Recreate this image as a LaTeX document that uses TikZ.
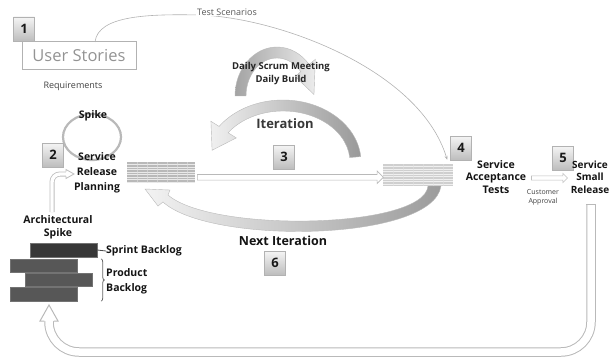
\documentclass[tikz,border=0pt]{standalone}
\usepackage{fontspec}
\setmainfont{Open Sans}
\usetikzlibrary{calc,arrows.meta,shapes.arrows,decorations.pathreplacing}
\begin{document}
\begin{tikzpicture}[x=1pt,y=-1pt,
  numbox/.style={draw=gray!60, top color=gray!8, bottom color=gray!52,
    minimum width=21pt, minimum height=24pt, inner sep=0pt,
    font=\fontsize{13}{13}\selectfont\bfseries, text=black!90},
  lbl/.style={font=\fontsize{10.5}{12.5}\selectfont\bfseries, align=center,
    text=black!92, inner sep=0pt},
  note/.style={font=\fontsize{9}{10}\selectfont, text=black!75, inner sep=1pt},
  hollow/.style={single arrow, draw=gray!55, fill=white, line width=.6pt,
    inner sep=2.5pt, single arrow head extend=3.5pt, minimum width=0pt},
  stripebox/.style={minimum width=68pt, minimum height=21pt, inner sep=0pt,
    path picture={
      \foreach \k in {1,...,8}
        \draw[white, opacity=.7, line width=.7pt]
          ([yshift=-\k*2.5pt]path picture bounding box.north west) --
          ([yshift=-\k*2.5pt]path picture bounding box.north east);
      \foreach \k in {1,...,6}
        \draw[gray!25, opacity=.6, line width=.3pt]
          ([xshift=\k*10pt]path picture bounding box.north west) --
          ([xshift=\k*10pt]path picture bounding box.south west);
    }},
  bar/.style={minimum width=67pt, inner sep=0pt, draw=black!55, line width=.4pt}
]
\useasboundingbox (0,0) rectangle (611,361);

% ---------- big arcs (behind the text) ----------
% Daily scrum loop
\coordinate (cd) at (277,96);
\shade[left color=gray!72, right color=gray!15, draw=gray!55, line width=.4pt]
  ($(cd)+(-180:42 and 49)$) arc[start angle=-180, end angle=-40, x radius=42, y radius=49]
  -- ($(cd)+(-40:50 and 57)$) -- ($(cd)+(-2:37 and 43)$) -- ($(cd)+(-40:24 and 30)$)
  -- ($(cd)+(-40:31 and 38)$) arc[start angle=-40, end angle=-180, x radius=31, y radius=38]
  -- cycle;

% Iteration loop
\coordinate (ci) at (283,162);
\shade[left color=gray!12, right color=gray!80, draw=gray!55, line width=.4pt]
  ($(ci)+(-5:78 and 62)$) arc[start angle=-5, end angle=-145, x radius=78, y radius=62]
  -- ($(ci)+(-145:88 and 71)$) -- ($(ci)+(-168:72.5 and 56.5)$) -- ($(ci)+(-145:57 and 42)$)
  -- ($(ci)+(-145:67 and 51)$) arc[start angle=-145, end angle=-5, x radius=67, y radius=51]
  -- cycle;

% Next iteration loop
\shade[left color=gray!10, right color=gray!78, draw=gray!55, line width=.4pt]
  (441,186) .. controls (433,242) and (210,245) .. (163,202)
  -- (158,206) -- (145,189) -- (170,190) -- (168,195)
  .. controls (212,233) and (424,229) .. (428,186) -- cycle;

% Spike loop
\draw[gray!55, line width=2.2pt] (92,137) ellipse[x radius=29, y radius=23];

% ---------- nodes ----------
\node[numbox] (n1) at (24,29) {1};
\node[stripebox, fill=gray!55] (sb1) at (161,172.5) {};
\node[stripebox, fill=gray!38, minimum width=70pt, minimum height=22pt] (sb2) at (418,175) {};

% Test scenarios line from the user stories to the acceptance tests
\draw[gray!60, line width=.6pt, -{Stealth[length=4pt,width=3pt]}]
  (95,42) .. controls (98,15) and (150,14) .. (200,15)
  .. controls (280,18) and (420,70) .. ($(sb2.north east)+(-6,-4)$);
\node[note, fill=white, text=black!65] (ts) at (227,12) {Test Scenarios};

\node[draw=gray!60, line width=1pt, minimum width=114pt, minimum height=28pt,
  font=\fontsize{16.5}{18}\selectfont, text=gray!85] (us) at (79,56) {User Stories};

\node[note] (req) at (73,86) {Requirements};
\node[lbl] (spike) at (93,116) {Spike};
\node[numbox] (n2) at (53,155) {2};
\node[lbl, font=\fontsize{10.5}{15}\selectfont\bfseries] (srp) at (97,173) {Service\\Release\\Planning};
\node[lbl, font=\fontsize{10.5}{13}\selectfont\bfseries] (arch) at (58,227) {Architectural\\Spike};

\node[bar, fill=black!78, minimum height=14pt] (sprint) at (63.5,250) {};
\node[bar, fill=black!66, minimum height=13pt] (pb1) at (43.5,265.5) {};
\node[bar, fill=black!66, minimum height=13pt] (pb2) at (58.5,279.5) {};
\node[bar, fill=black!66, minimum height=14pt] (pb3) at (43.5,294) {};
\node[lbl, anchor=west] (sbt) at (106,251) {Sprint Backlog};
\node[lbl, anchor=west, align=left, font=\fontsize{10.5}{15}\selectfont\bfseries] (pbt) at (106,281) {Product\\Backlog};

\node[numbox] (n3) at (284,157) {3};
\node[numbox] (n4) at (461,148) {4};
\node[lbl] (sat) at (496,177) {Service\\Acceptance\\Tests};
\node[numbox] (n5) at (563,158) {5};
\node[lbl, font=\fontsize{10}{12.5}\selectfont\bfseries] (ssr) at (590,177) {Service\\Small\\Release};
\node[note, align=center, font=\fontsize{7}{9}\selectfont] (ca) at (543,197) {Customer\\Approval};

\node[lbl, font=\fontsize{13}{14}\selectfont\bfseries, text=black!78] (iter) at (285,124) {Iteration};
\node[lbl, font=\fontsize{9.5}{13}\selectfont\bfseries, text=black!85] (dsm) at (281,74) {Daily Scrum Meeting\\Daily Build};
\node[lbl, font=\fontsize{12.5}{14}\selectfont\bfseries] (nxt) at (283,241) {Next Iteration};
\node[numbox] (n6) at (275,263) {6};

% ---------- connectors ----------
% requirements line
\draw[gray!45, line width=.8pt] ($(us.south west)+(11,0)$) -- ($(us.south west)+(11,0)$ |- sprint.north);
% sprint backlog label line
\draw[black!70, line width=.8pt] (sprint.east) -- (sbt.west);
% product backlog brace
\draw[black!60, line width=.8pt, decorate, decoration={brace, amplitude=3pt}]
  ($(pb1.north east)+(24,0)$) -- ($(pb3.south east)+(24,0)$);

% step 3: from planning to acceptance
\node[hollow, minimum height=186pt] (a3) at ($(sb1.east)!.5!(sb2.west)+(0,3.5)$) {};
% customer approval
\node[hollow, minimum height=36pt, inner sep=1.8pt, single arrow head extend=2.5pt, draw=gray!50]
  (a5) at ($(sat.east)!.5!(ssr.west)+(0,1)$) {};

% architectural spike feeds the release planning
\coordinate (asTop) at (52,212);
\draw[gray!50, line width=5pt, rounded corners=8pt] (asTop) -- (52,174) -- (66,174);
\draw[white, line width=3.4pt, rounded corners=8pt] (asTop) -- (52,174) -- (66,174);
\draw[gray!50, fill=white, line width=.8pt] (66,171.6) -- (66,169.5) -- (74,174) -- (66,178.5) -- (66,176.4);

% return path from small release back to the product backlog
\coordinate (retTop) at (591,204);
\coordinate (retEnd) at (49,321);
\draw[gray!55, line width=9.5pt, rounded corners=30pt] (retTop) -- (591,352) -- (49,352) -- (retEnd);
\draw[white, line width=7.5pt, rounded corners=30pt] (retTop) -- (591,352) -- (49,352) -- (retEnd);
\draw[gray!55, line width=1pt] (586.25,204) -- (595.75,204);
\draw[gray!55, fill=white, line width=1pt]
  (44.25,321) -- (40,321) -- (49,305) -- (58,321) -- (53.75,321);
\end{tikzpicture}
\end{document}
